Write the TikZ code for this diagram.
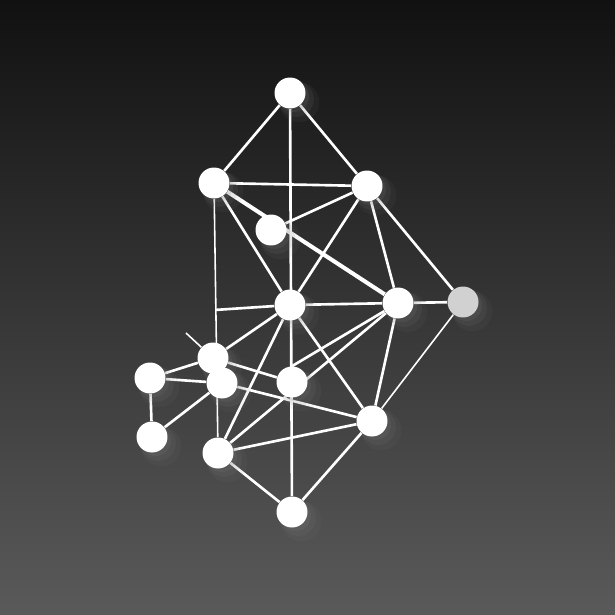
\documentclass[tikz,border=0pt]{standalone}
\usetikzlibrary{calc,shadows}
\definecolor{bgtop}{RGB}{17,17,17}
\definecolor{bgbot}{RGB}{90,90,90}
\pgfdeclarelayer{back}
\pgfdeclarelayer{edges}
\pgfsetlayers{back,edges,main}
\tikzset{
  dot/.style={circle, fill=white, minimum size=0.62cm, inner sep=0pt,
    drop shadow={opacity=0.08, shadow scale=1.3, shadow xshift=4pt, shadow yshift=-4pt},
    drop shadow={opacity=0.12, shadow scale=1.15, shadow xshift=3pt, shadow yshift=-3pt},
    drop shadow={opacity=0.15, shadow scale=1.0, shadow xshift=2pt, shadow yshift=-2pt}},
  dimdot/.style={dot, fill=black!18},
  link/.style={draw=white, line width=1.5pt},
  thinlink/.style={draw=white, line width=0.9pt},
  heavylink/.style={draw=white, line width=2.3pt}
}
\begin{document}
\begin{tikzpicture}[x=0.02cm, y=-0.02cm]
    \begin{pgfonlayer}{back}
      \shade[top color=bgtop, bottom color=bgbot] (0,0) rectangle (615,615);
    \end{pgfonlayer}
    \useasboundingbox (0,0) rectangle (615,615);

    % vertices
    \node[dot] (top)  at (290, 93) {};
    \node[dot] (ul)   at (214,183) {};
    \node[dot] (ur)   at (367,186) {};
    \node[dot] (in)   at (271,230) {};
    \node[dot] (hub)  at (290,305) {};
    \node[dot] (rt)   at (398,303) {};
    \node[dimdot] (far) at (463,302) {};
    \node[dot] (lu)   at (213,358) {};
    \node[dot] (ll)   at (150,378) {};
    \node[dot] (lm)   at (222,383) {};
    \node[dot] (mid)  at (292,382) {};
    \node[dot] (lb)   at (152,437) {};
    \node[dot] (rb)   at (372,421) {};
    \node[dot] (bl)   at (218,453) {};
    \node[dot] (bot)  at (292,512) {};

    \coordinate (stub) at (186,333);
    \coordinate (tee) at ($(ul)!0.47!(bl)$);

    \begin{pgfonlayer}{edges}
      % upper part
      \draw[link] (top) -- (ul);
      \draw[link] (top) -- (ur);
      \draw[link] (top) -- (bot);
      \draw[link] (ul) -- (ur);
      \draw[heavylink] (ul) -- (rt);
      \draw[link] (ul) -- (hub);
      \draw[thinlink] (ul) -- (bl);
      \draw[link] (ur) -- (in);
      \draw[link] (ur) -- (hub);
      \draw[link] (ur) -- (rt);
      \draw[link] (ur) -- (far);
      % middle
      \draw[link] (hub) -- (rt);
      \draw[link] (rt) -- (far);
      \draw[thinlink] (far) -- (rb);
      \draw[link] (rt) -- (rb);
      \draw[link] (hub) -- (rb);
      \draw[link] (hub) -- (lu);
      \draw[link] (hub) -- (bl);
      \draw[link] (tee) -- (hub);
      \draw[link] (rt) -- (mid.north);
      \draw[link] (rt) -- (bl);
      % left cluster
      \draw[thinlink] (stub) -- (lu);
      \draw[link] (ll) -- (lu);
      \draw[link] (ll) -- (lm);
      \draw[link] (ll) -- (lb);
      \draw[link] (lb) -- (lm);
      \draw[link] (lu) -- (mid);
      \draw[link] (lm) -- (rb);
      % lower part
      \draw[link] (bl) -- (rb);
      \draw[link] (bl) -- (bot);
      \draw[link] (bot) -- (rb);
    \end{pgfonlayer}
\end{tikzpicture}
\end{document}
